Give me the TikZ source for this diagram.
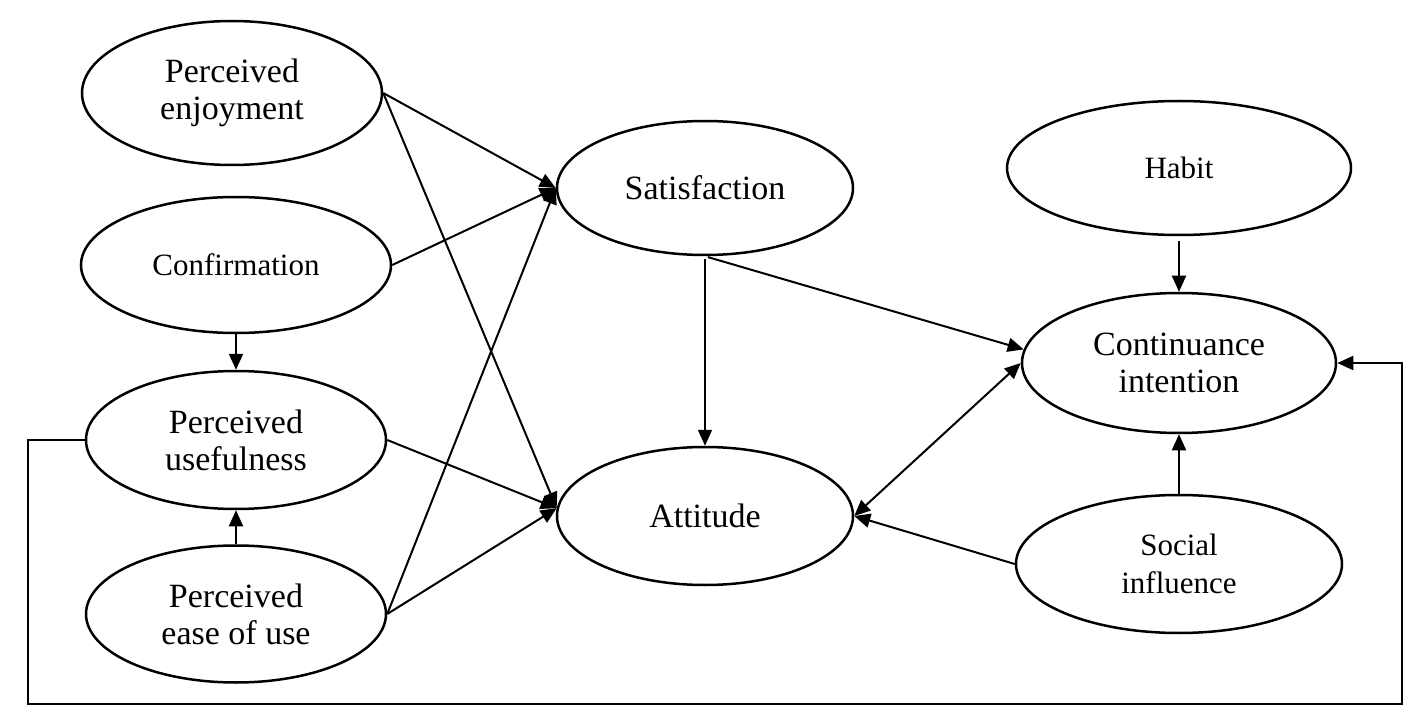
\documentclass[tikz,border=0pt]{standalone}
\usepackage{fontspec}
\setmainfont{Liberation Serif}
\usepackage{tikz}
\usetikzlibrary{shapes.geometric,arrows.meta}

\begin{document}
\begin{tikzpicture}[x=0.5pt,y=-0.5pt,
        construct/.style={ellipse, draw, line width=1.25pt, inner sep=0pt, align=center, font=\fontsize{17}{18.5}\selectfont},
        smalltext/.style={font=\fontsize{15.5}{19}\selectfont},
        link/.style={-{Triangle[length=8pt,width=7pt]}, line width=1pt},
        twoway/.style={{Triangle[length=8pt,width=7pt]}-{Triangle[length=8pt,width=7pt]}, line width=1pt}]
            \useasboundingbox (0,0) rectangle (1421,722);

            % Nodes
            \node[construct, minimum width=150pt, minimum height=72pt] (pe) at (232,93) {Perceived\\enjoyment};
            \node[construct, smalltext, minimum width=155pt, minimum height=68pt] (conf) at (236,265) {Confirmation};
            \node[construct, minimum width=150pt, minimum height=69pt] (pu) at (236,440) {Perceived\\usefulness};
            \node[construct, minimum width=150pt, minimum height=68.5pt] (peou) at (236,614) {Perceived\\ease of use};
            \node[construct, minimum width=148pt, minimum height=67pt] (sat) at (705,188) {Satisfaction};
            \node[construct, minimum width=148pt, minimum height=69pt] (att) at (705,516) {Attitude};
            \node[construct, smalltext, minimum width=172pt, minimum height=67pt] (hab) at (1179,168) {Habit};
            \node[construct, minimum width=157pt, minimum height=70pt] (ci) at (1179,363) {Continuance\\intention};
            \node[construct, smalltext, minimum width=163pt, minimum height=69pt] (si) at (1179,564) {Social\\influence};

            \coordinate (loopL) at (28,704);
            \coordinate (loopR) at (1402,704);

            % Edges
            \draw[link] (pe.east) -- (sat.west);
            \draw[link] (pe.east) -- (att.177);
            \draw[link] (conf.east) -- (sat.west);
            \draw[link] (conf.south) -- (pu.north);
            \draw[link] (pu.east) -- (att.177);
            \draw[link] (peou.north) -- (pu.south);
            \draw[link] (peou.east) -- (sat.west);
            \draw[link] (peou.east) -- (att.177);
            \draw[link, shorten <=1.5pt] (sat.south) -- (att.north);
            \draw[link, shorten <=1.5pt] (sat.south) -- (ci.175);
            \draw[twoway] (att.east) -- (ci.west);
            \draw[link] (si.west) -- (att.east);
            \draw[link, shorten <=2.5pt] (hab.south) -- (ci.north);
            \draw[link] (si.north) -- (ci.south);

            % feedback line round the bottom
            \draw[link] (pu.west) -| (loopL) -- (loopR) |- (ci.east);
        \end{tikzpicture}
\end{document}
